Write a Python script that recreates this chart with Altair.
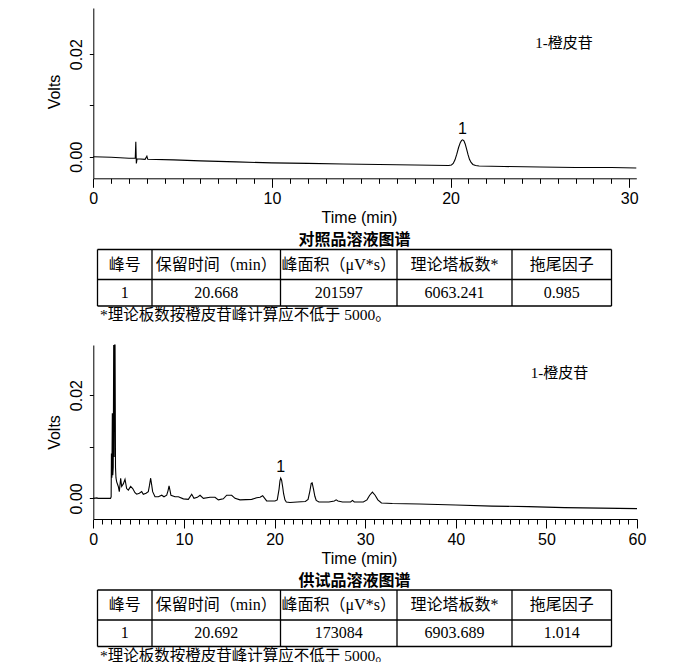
import altair as alt
import pandas as pd

# ---------------- data ----------------
# Reference-solution chromatogram (time in min, signal in volts)
REF_TIME = [0.0, 1.0, 2.0, 2.35, 2.38, 2.41, 2.45, 2.9, 3.0, 3.05, 4.5, 6.0, 8.0,
            10.0, 12.0, 14.0, 16.0, 18.0, 19.9, 20.05, 20.15, 20.25, 20.35, 20.45,
            20.55, 20.62, 20.68, 20.75, 20.82, 20.9, 20.98, 21.06, 21.15, 21.25,
            21.4, 21.6, 23.0, 25.0, 27.0, 29.0, 30.4]
REF_VOLT = [0.0, -0.0001, -0.0003, -0.0003, 0.0029, -0.0013, -0.0004, -0.0005,
            0.0001, -0.0005, -0.0006, -0.0008, -0.0010, -0.0012, -0.0013, -0.0014,
            -0.0015, -0.0016, -0.0017, -0.0016, -0.0013, -0.0006, 0.0005, 0.0018,
            0.0028, 0.0032, 0.0033, 0.0031, 0.0025, 0.0015, 0.0004, -0.0005,
            -0.0011, -0.0015, -0.0017, -0.0018, -0.0019, -0.0020, -0.0021, -0.0021,
            -0.0022]

# Test-solution chromatogram
SAM_TIME = [0.0, 0.4, 0.5, 1.9, 1.97, 2.0, 2.05, 2.1, 2.15, 2.2, 2.25, 2.3, 2.35,
            2.4, 2.45, 2.5, 2.58, 2.76, 2.87, 3.02, 3.13, 3.31, 3.5, 3.68, 3.87,
            4.12, 4.35, 4.6, 4.79, 5.08, 5.34, 5.52, 5.82, 6.07, 6.2, 6.33, 6.45,
            6.55, 6.81, 7.18, 7.55, 7.8, 8.1, 8.25, 8.36, 8.47, 8.57, 9.02, 9.39,
            9.94, 10.49, 10.86, 11.11, 11.48, 11.78, 12.15, 12.88, 13.43, 13.8,
            14.35, 14.72, 15.27, 15.64, 16.19, 17.48, 18.03, 18.4, 18.69, 19.13,
            20.05, 20.3, 20.5, 20.6, 20.68, 20.78, 20.9, 21.0, 21.15, 21.3, 21.7,
            22.5, 23.4, 23.7, 23.9, 24.05, 24.15, 24.3, 24.45, 24.6, 24.9, 26.0,
            26.6, 26.8, 27.0, 27.5, 28.4, 28.6, 28.8, 29.8, 30.2, 30.5, 30.8, 31.1,
            31.4, 31.8, 33.0, 36.0, 40.0, 44.0, 48.0, 52.0, 56.0, 60.0]
SAM_VOLT = [0.0, 0.0001, 0.0, 0.0, 0.0003, 0.0087, 0.0040, 0.0165, 0.0045, 0.0060,
            0.0450, 0.0080, 0.0600, 0.0350, 0.0060, 0.0040, 0.0032, 0.0023, 0.0013,
            0.0039, 0.0023, 0.0028, 0.0037, 0.0019, 0.0016, 0.0023, 0.0019, 0.0011,
            0.0008, 0.0010, 0.0013, 0.0008, 0.0010, 0.0013, 0.0025, 0.0039, 0.0025,
            0.0013, 0.0003, 0.0003, 0.0006, 0.0003, 0.0006, 0.0015, 0.0024, 0.0015,
            0.0006, 0.0003, 0.0003, -0.0001, -0.0002, 0.0008, 0.0, 0.0002, 0.0006,
            0.0, 0.0002, 0.0002, -0.0003, -0.0001, 0.0006, 0.0006, 0.0, -0.0003,
            -0.0002, 0.0001, 0.0002, 0.0005, -0.0005, -0.0005, -0.0003, 0.0018,
            0.0034, 0.0039, 0.0035, 0.0022, 0.0009, -0.0003, -0.0007, -0.0008,
            -0.0007, -0.0006, -0.0002, 0.0014, 0.0029, 0.0030, 0.0018, 0.0004,
            -0.0004, -0.0007, -0.0007, -0.0005, -0.0003, -0.0005, -0.0007, -0.0007,
            -0.0004, -0.0007, -0.0007, -0.0003, 0.0006, 0.0012, 0.0006, -0.0003,
            -0.0009, -0.0010, -0.0011, -0.0013, -0.0015, -0.0016, -0.0018, -0.0019,
            -0.0020]
assert len(REF_TIME) == len(REF_VOLT)
assert len(SAM_TIME) == len(SAM_VOLT)

PEAK_LABEL = ["1"]
COMPOUND_LABEL = ["1-橙皮苷"]
REF_PEAK = [20.668, 0.0033]        # retention time, apex height
SAM_PEAK = [20.692, 0.0039]
REF_NOTE_AT = [26.35, 0.0222]      # where the compound note sits (data units)
SAM_NOTE_AT = [51.45, 0.0243]

TABLE_HEADER = ["峰号", "保留时间（min）", "峰面积（μV*s）", "理论塔板数*", "拖尾因子"]
REF_ROW = ["1", "20.668", "201597", "6063.241", "0.985"]
SAM_ROW = ["1", "20.692", "173084", "6903.689", "1.014"]
REF_TITLE = ["对照品溶液图谱"]
SAM_TITLE = ["供试品溶液图谱"]
FOOTNOTE = ["*理论板数按橙皮苷峰计算应不低于 5000。"]

REF_MAJOR_TICKS = [0, 10, 20, 30]
REF_MINOR_TICKS = [t for t in range(0, 31) if t % 10]
SAM_MAJOR_TICKS = [0, 10, 20, 30, 40, 50, 60]
SAM_MINOR_TICKS = [t for t in range(0, 61) if t % 10]
Y_TICKS = [0.0, 0.01, 0.02]
REF_X_DOMAIN = [0, 30.4]
SAM_X_DOMAIN = [0, 60]
REF_Y_DOMAIN = [-0.0042, 0.029]
SAM_Y_DOMAIN = [-0.0040, 0.0297]

# ---------------- layout (pixels) ----------------
M = 8
W, H = 682, 654


def px(v):
    return v - M


REF_RANGE = {"x": [px(93.3), px(636.3)], "y": [px(178.3), px(8)]}
SAM_RANGE = {"x": [px(93.3), px(637)], "y": [px(519), px(345)]}
COL_EDGES = [px(v) for v in [97.5, 152, 280.5, 397, 512, 611.5]]
REF_ROWS = [px(v) for v in [249.5, 279.5, 306]]
SAM_ROWS = [px(v) for v in [590, 620, 646.5]]

SANS = "Liberation Sans, Arial, sans-serif"
SERIF = "Liberation Serif, Noto Sans CJK SC, serif"
CJK = "Noto Sans CJK SC"


def scales(xdom, ydom, rng):
    xs = alt.Scale(domain=xdom, range=rng["x"], nice=False, zero=False)
    ys = alt.Scale(domain=ydom, range=rng["y"], nice=False, zero=False, clamp=True)
    return xs, ys


def chromatogram(times, volts, xdom, ydom, rng, xticks, peak, note_at, volts_title_y):
    df = pd.DataFrame({"t": times, "v": volts})
    xs, ys = scales(xdom, ydom, rng)
    xaxis = alt.Axis(
        orient="bottom", offset=rng["y"][0] - H,
        values=xticks, tickSize=9,
        labelPadding=16, labelBaseline="alphabetic", labelAlign="center",
        labelFlush=False, labelOverlap=False,
        labelFont=SANS, labelFontSize=16, labelColor="black",
        domainColor="black", tickColor="black", domainWidth=1, tickWidth=1, grid=False,
        title="Time (min)", titleFont=SANS, titleFontSize=16, titleFontWeight="normal",
        titleColor="black", titleX=px(359), titleY=44,
        titleAlign="center", titleBaseline="alphabetic",
    )
    yaxis = alt.Axis(
        orient="left", offset=-rng["x"][0],
        values=Y_TICKS, format=".2f",
        labelExpr="abs(datum.value - 0.01) < 1e-9 ? '' : datum.label",
        tickSize=4, labelPadding=8, labelAngle=-90,
        labelAlign="center", labelBaseline="alphabetic", labelOverlap=False,
        labelFont=SANS, labelFontSize=16, labelColor="black",
        domainColor="black", tickColor="black", domainWidth=1, tickWidth=1, grid=False,
        title="Volts", titleFont=SANS, titleFontSize=16, titleFontWeight="normal",
        titleColor="black", titleAngle=270, titleX=-34, titleY=volts_title_y,
        titleAlign="center", titleBaseline="alphabetic",
    )
    line = alt.Chart(df).mark_line(color="black", strokeWidth=1.1).encode(
        x=alt.X("t:Q", scale=xs, axis=xaxis),
        y=alt.Y("v:Q", scale=ys, axis=yaxis),
        order="t:Q",
    )
    pk = pd.DataFrame({"t": [peak[0]], "v": [peak[1]], "label": PEAK_LABEL})
    peak_text = alt.Chart(pk).mark_text(
        font=SANS, fontSize=16, color="black", align="center",
        baseline="alphabetic", dy=-6,
    ).encode(
        x=alt.X("t:Q", scale=xs, axis=xaxis),
        y=alt.Y("v:Q", scale=ys, axis=yaxis),
        text="label:N",
    )
    nt = pd.DataFrame({"t": [note_at[0]], "v": [note_at[1]], "label": COMPOUND_LABEL})
    note_text = alt.Chart(nt).mark_text(
        font=SERIF, fontSize=15, color="black", align="center", baseline="middle",
    ).encode(
        x=alt.X("t:Q", scale=xs, axis=xaxis),
        y=alt.Y("v:Q", scale=ys, axis=yaxis),
        text="label:N",
    )
    return alt.layer(line, peak_text, note_text)


def minor_ticks(ticks, xdom, ydom, rng):
    xs, ys = scales(xdom, ydom, rng)
    df = pd.DataFrame({"t": ticks, "v": [0.0] * len(ticks)})
    axis = alt.Axis(
        orient="bottom", offset=rng["y"][0] - H, values=ticks, tickSize=5,
        labels=False, domain=False, grid=False, tickColor="black", tickWidth=1,
        title="",
    )
    return alt.Chart(df).mark_point(opacity=0).encode(
        x=alt.X("t:Q", scale=xs, axis=axis),
        y=alt.Y("v:Q", scale=ys, axis=None),
    )


def table(row_vals, rows_px, title):
    xs = alt.Scale(domain=[0, 1, 2, 3, 4, 5], range=COL_EDGES, nice=False, zero=False)
    ys = alt.Scale(domain=[0, 1, 2], range=rows_px, nice=False, zero=False)
    ncol = len(TABLE_HEADER)
    grid = pd.DataFrame(
        [{"x": 0, "x2": ncol, "y": r, "y2": r} for r in range(3)]
        + [{"x": c, "x2": c, "y": 0, "y2": 2} for c in range(ncol + 1)]
    )
    rules = alt.Chart(grid).mark_rule(color="black", strokeWidth=1.3).encode(
        x=alt.X("x:Q", scale=xs, axis=None), x2="x2:Q",
        y=alt.Y("y:Q", scale=ys, axis=None), y2="y2:Q",
    )
    cells = pd.DataFrame({
        "c": [i + 0.5 for i in range(ncol)] * 2,
        "r": [0.5] * ncol + [1.5] * ncol,
        "text": TABLE_HEADER + row_vals,
    })
    texts = alt.Chart(cells).mark_text(
        font=SERIF, fontSize=16, color="black", align="center", baseline="middle",
    ).encode(
        x=alt.X("c:Q", scale=xs, axis=None),
        y=alt.Y("r:Q", scale=ys, axis=None),
        text="text:N",
    )
    ttl = alt.Chart(pd.DataFrame({"text": title})).mark_text(
        font=CJK, fontSize=16, fontWeight="bold", color="black",
        align="center", baseline="middle",
    ).encode(
        x=alt.value((COL_EDGES[0] + COL_EDGES[-1]) / 2),
        y=alt.value(rows_px[0] - 9.5),
        text="text:N",
    )
    note = alt.Chart(pd.DataFrame({"text": FOOTNOTE})).mark_text(
        font=SERIF, fontSize=15.5, color="black", align="left", baseline="middle",
    ).encode(
        x=alt.value(COL_EDGES[0] + 2.5),
        y=alt.value(rows_px[-1] + 9),
        text="text:N",
    )
    return alt.layer(rules, texts, ttl, note)


top_plot = chromatogram(REF_TIME, REF_VOLT, REF_X_DOMAIN, REF_Y_DOMAIN, REF_RANGE,
                        REF_MAJOR_TICKS, REF_PEAK, REF_NOTE_AT, px(91.5))
top_minor = minor_ticks(REF_MINOR_TICKS, REF_X_DOMAIN, REF_Y_DOMAIN, REF_RANGE)
bottom_plot = chromatogram(SAM_TIME, SAM_VOLT, SAM_X_DOMAIN, SAM_Y_DOMAIN, SAM_RANGE,
                           SAM_MAJOR_TICKS, SAM_PEAK, SAM_NOTE_AT, px(432))
bottom_minor = minor_ticks(SAM_MINOR_TICKS, SAM_X_DOMAIN, SAM_Y_DOMAIN, SAM_RANGE)
top_table = table(REF_ROW, REF_ROWS, REF_TITLE)
bottom_table = table(SAM_ROW, SAM_ROWS, SAM_TITLE)

chart = (
    alt.layer(top_plot, top_minor, top_table, bottom_plot, bottom_minor, bottom_table)
    .resolve_scale(x="independent", y="independent")
    .properties(width=W, height=H, autosize=alt.AutoSizeParams(type="none"),
                padding=0, background="white")
    .configure_view(stroke=None)
)

chart.save("out.html", embed_options={"renderer": "svg", "actions": False})
